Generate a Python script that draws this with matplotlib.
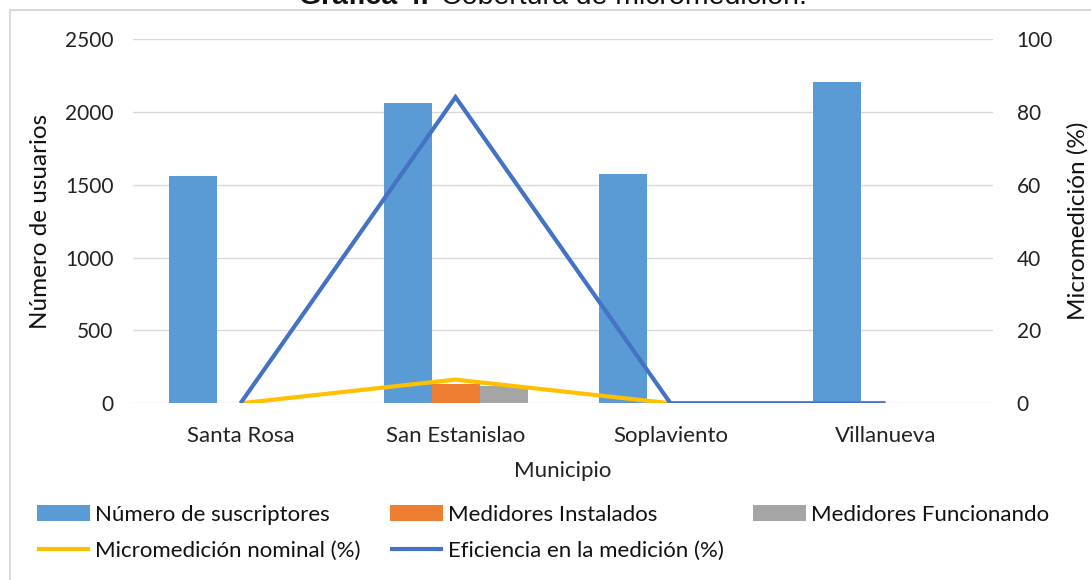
import matplotlib
matplotlib.use("Agg")
import matplotlib.pyplot as plt
import numpy as np
from matplotlib.patches import Rectangle

plt.rcParams['font.family'] = ['Lato', 'DejaVu Sans']

municipios = ["Santa Rosa", "San Estanislao", "Soplaviento", "Villanueva"]
suscriptores = [1562, 2063, 1572, 2203]
instalados = [0, 135, 0, 0]
funcionando = [0, 119, 0, 0]
micro_nominal = [0, 6.5, 0, 0]
eficiencia = [0, 84, 0, 0]

W, H = 1091, 580
fig = plt.figure(figsize=(W / 100, H / 100), dpi=100)
ax = fig.add_axes([133 / W, 1 - 403.3 / H, (993 - 133) / W, (403.3 - 38.8) / H])
ax2 = ax.twinx()

x = np.arange(len(municipios))
bw = 48 / 215
b1 = ax.bar(x - bw, suscriptores, bw, color="#5B9BD5", label="Número de suscriptores", zorder=2)
b2 = ax.bar(x, instalados, bw, color="#ED7D31", label="Medidores Instalados", zorder=2)
b3 = ax.bar(x + bw, funcionando, bw, color="#A5A5A5", label="Medidores Funcionando", zorder=2)

l1, = ax2.plot(x, micro_nominal, color="#FFC000", lw=3, label="Micromedición nominal (%)",
               solid_joinstyle="round", solid_capstyle="butt")
l2, = ax2.plot(x, eficiencia, color="#4472C4", lw=3, label="Eficiencia en la medición (%)",
               solid_joinstyle="miter", solid_capstyle="butt")

ax.set_xlim(-0.5, len(municipios) - 0.5)
ax.set_ylim(0, 2500)
ax.set_yticks(np.arange(0, 2501, 500))
ax2.set_ylim(0, 100)
ax2.set_yticks(np.arange(0, 101, 20))
ax.set_xticks(x)
ax.set_xticklabels(municipios, fontsize=16)

ax.yaxis.grid(True, color="#D9D9D9", lw=1, zorder=0)
ax.set_axisbelow(True)
for a in (ax, ax2):
    for s in a.spines.values():
        s.set_visible(False)
    a.tick_params(length=0, labelsize=15, colors="#404040", labelcolor="#222222")
ax.tick_params(axis='x', labelsize=16, pad=16)
ax.tick_params(axis='y', pad=14)
ax2.tick_params(axis='y', pad=17)

ax.set_xlabel("Municipio", fontsize=16, color="#222222", labelpad=11)
ax.set_ylabel("Número de usuarios", fontsize=17.5, color="#111111", labelpad=10)
ax2.set_ylabel("Micromedición (%)", fontsize=17.5, color="#111111", labelpad=10)

# Title (partially cut at the top in the reference)
tf = ['Liberation Sans', 'DejaVu Sans']
fig.text(429 / W, 1 - 4 / H, "Gráfica 4.", ha="right", va="baseline", fontsize=20.5,
         fontweight="bold", color="#111111", family=tf)
fig.text(441 / W, 1 - 4 / H, "Cobertura de micromedición.", ha="left", va="baseline",
         fontsize=20.5, color="#111111", family=tf)

# Chart frame
fig.patches.append(Rectangle((10 / W, -0.1), 1.2, 1.1 - 10 / H, transform=fig.transFigure,
                             fill=False, edgecolor="#D9D9D9", lw=1.5, zorder=0))

handles = [b1, l1, b2, l2, b3]
fig.legend(handles=handles, labels=[h.get_label() for h in handles], ncol=3,
           loc="upper left", bbox_to_anchor=(37 / W, 1 - 505 / H), frameon=False,
           borderpad=0, borderaxespad=0,
           fontsize=16, handlelength=2.4, handleheight=0.75, handletextpad=0.23,
           columnspacing=1.3, labelspacing=0.72, labelcolor="#111111")

fig.savefig("out.png", dpi=100)
